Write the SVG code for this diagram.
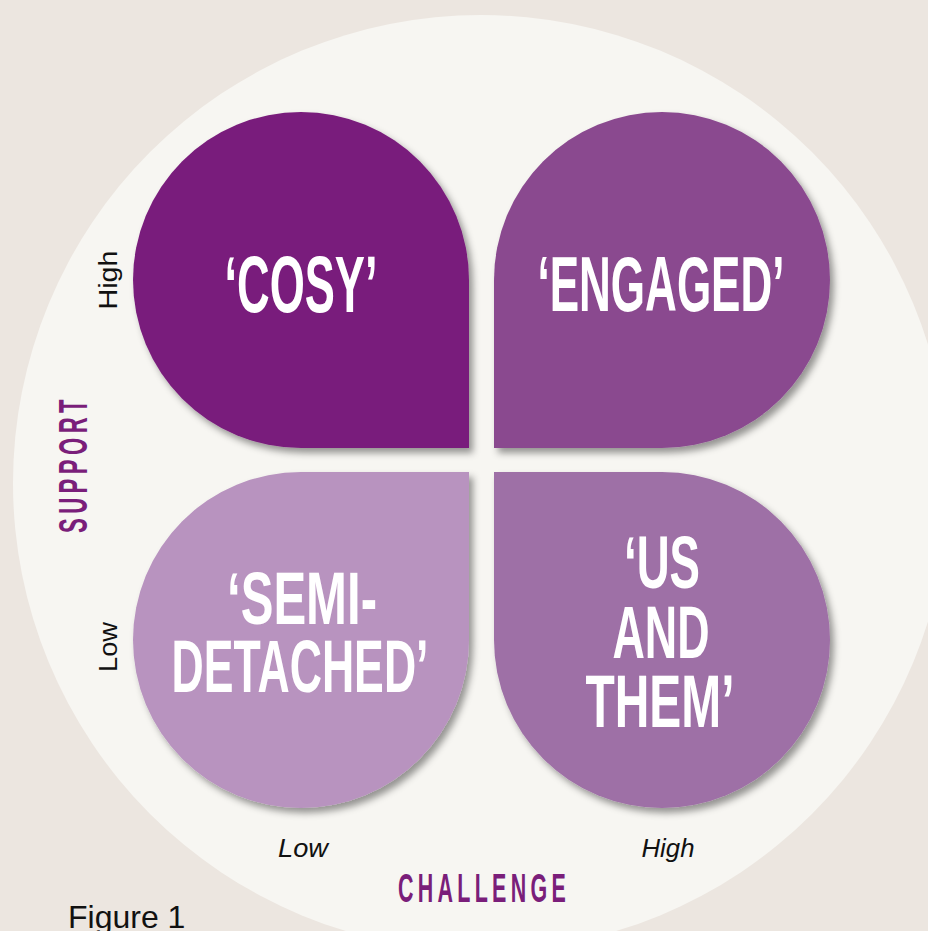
<svg xmlns="http://www.w3.org/2000/svg" width="928" height="931" viewBox="0 0 928 931">
  <defs>
    <filter id="shadow" x="-10%" y="-10%" width="125%" height="125%">
      <feDropShadow dx="4" dy="5" stdDeviation="3.5" flood-color="#000" flood-opacity="0.4"/>
    </filter>
  </defs>
  <style>
    .petal { filter: url(#shadow); }
    .title { font-family: "Liberation Sans", Arial, sans-serif; font-weight: bold; fill: #ffffff; text-anchor: middle; }
    .axis { font-family: "Liberation Sans", Arial, sans-serif; font-weight: bold; fill: #7a1e7a; text-anchor: middle; font-size: 40px; letter-spacing: 8px; }
    .lvl { font-family: "Liberation Sans", Arial, sans-serif; fill: #111; text-anchor: middle; font-size: 25px; }
    .cap { font-family: "Liberation Sans", Arial, sans-serif; fill: #111; font-size: 32px; }
  </style>
  <rect width="928" height="931" fill="#ece6e0"/>
  <circle cx="481" cy="483" r="468" fill="#f7f6f2"/>

  <g id="cosy">
    <path class="petal" d="M469,448 H301 A168,168 0 0 1 133,280 A168,168 0 0 1 301,112 A168,168 0 0 1 469,280 Z" fill="#791d7b"/>
    <text class="title" x="301" y="312" font-size="80" textLength="153" lengthAdjust="spacingAndGlyphs">‘COSY’</text>
  </g>
  <g id="engaged">
    <path class="petal" d="M494,448 V280 A168,168 0 0 1 662,112 A168,168 0 0 1 830,280 A168,168 0 0 1 662,448 Z" fill="#8a4a8f"/>
    <text class="title" x="661" y="311" font-size="78" textLength="247" lengthAdjust="spacingAndGlyphs">‘ENGAGED’</text>
  </g>
  <g id="semi-detached">
    <path class="petal" d="M469,472 V640 A168,168 0 0 1 301,808 A168,168 0 0 1 133,640 A168,168 0 0 1 301,472 Z" fill="#b893bf"/>
    <text class="title" x="302" y="624" font-size="74" textLength="150" lengthAdjust="spacingAndGlyphs">‘SEMI-</text>
    <text class="title" x="300" y="692" font-size="74" textLength="257" lengthAdjust="spacingAndGlyphs">DETACHED’</text>
  </g>
  <g id="us-and-them">
    <path class="petal" d="M494,472 H662 A168,168 0 0 1 830,640 A168,168 0 0 1 662,808 A168,168 0 0 1 494,640 Z" fill="#9e70a6"/>
    <text class="title" x="662" y="588" font-size="74" textLength="76" lengthAdjust="spacingAndGlyphs">‘US</text>
    <text class="title" x="661" y="658" font-size="74" textLength="97" lengthAdjust="spacingAndGlyphs">AND</text>
    <text class="title" x="660" y="727" font-size="74" textLength="149" lengthAdjust="spacingAndGlyphs">THEM’</text>
  </g>

  <g id="support-axis">
    <text class="axis" transform="translate(87,464) rotate(-90)" x="0" y="0" textLength="138" lengthAdjust="spacingAndGlyphs">SUPPORT</text>
    <text class="lvl" transform="translate(117,280) rotate(-90)" x="0" y="0" textLength="59" lengthAdjust="spacingAndGlyphs">High</text>
    <text class="lvl" transform="translate(117,647) rotate(-90)" x="0" y="0" textLength="50" lengthAdjust="spacingAndGlyphs">Low</text>
  </g>
  <g id="challenge-axis">
    <text class="axis" x="484" y="902" textLength="172" lengthAdjust="spacingAndGlyphs">CHALLENGE</text>
    <text class="lvl" x="303" y="857" font-style="italic" textLength="50" lengthAdjust="spacingAndGlyphs">Low</text>
    <text class="lvl" x="668" y="857" font-style="italic" textLength="53" lengthAdjust="spacingAndGlyphs">High</text>
  </g>
  <g id="caption">
    <text class="cap" x="68" y="928">Figure 1</text>
  </g>
</svg>
